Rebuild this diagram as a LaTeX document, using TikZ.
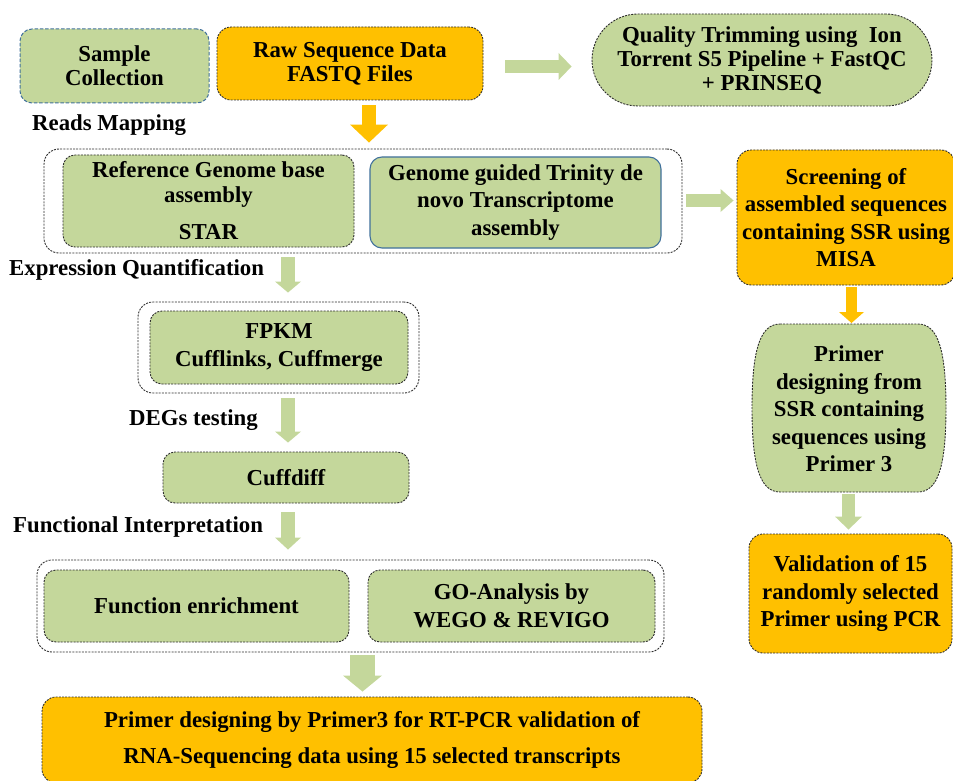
\documentclass[tikz,border=0pt]{standalone}
\usepackage{fontspec}
\setmainfont{Liberation Serif}
\usetikzlibrary{arrows.meta,calc}
\definecolor{gfill}{RGB}{196,215,155}
\definecolor{ofill}{RGB}{255,192,0}
\definecolor{bblue}{RGB}{65,113,156}
\definecolor{dgray}{RGB}{45,45,45}
\begin{document}
\begin{tikzpicture}[x=1pt,y=-1pt,
  every node/.style={inner sep=0pt, align=center, font=\bfseries\fontsize{22.8}{25}\selectfont},
  fdash/.style={draw=dgray, line width=0.9pt, dash pattern=on 2pt off 1.2pt},
  gbox/.style={fdash, fill=gfill, rounded corners=12pt},
  obox/.style={fdash, fill=ofill, rounded corners=14pt},
  outerbox/.style={fdash, fill=white, rounded corners=15pt},
  lbl/.style={anchor=west},
  sp24/.style={font=\bfseries\fontsize{22.8}{24}\selectfont},
  sp27/.style={font=\bfseries\fontsize{22.8}{27.5}\selectfont},
  sp36/.style={font=\bfseries\fontsize{22.8}{36}\selectfont},
  barrow/.style n args={4}{draw=#1, line width=#2, -{Triangle[width=#3, length=#4, line width=0pt]}}
]
\useasboundingbox (0,0) rectangle (953,781);
% top row
\node[gbox, draw=bblue, dash pattern=on 3.5pt off 1.8pt, line width=1pt, minimum width=189pt, minimum height=74pt, sp24] (samp) at (114.5,66) {Sample\\Collection};
\node[obox, minimum width=266pt, minimum height=73pt, sp24] (raw) at (350,63.5) {Raw Sequence Data\\FASTQ Files};
\node[gbox, rounded corners=46pt, minimum width=340pt, minimum height=92pt, sp24] (qual) at (762,60) {Quality Trimming using\ \ Ion\\Torrent S5 Pipeline + FastQC\\+ PRINSEQ};
\node[lbl] (lmap) at (32,125) {Reads Mapping};
% mapping group
\node[outerbox, minimum width=638pt, minimum height=104pt] (outer1) at (363,201) {};
\node[gbox, minimum width=291pt, minimum height=92pt] (ref) at (208.5,201) {Reference Genome base\\assembly\\[12pt]STAR};
\node[gbox, draw=bblue, solid, line width=1.1pt, minimum width=291pt, minimum height=91pt, sp27] (gg) at (515.5,202.5) {Genome guided Trinity de\\novo Transcriptome\\assembly};
\node[obox, minimum width=218pt, minimum height=135pt, sp27] (scr) at (846,217.5) {Screening of\\assembled sequences\\containing SSR using\\MISA};
% expression
\node[lbl] (lexp) at (9,270) {Expression Quantification};
\node[outerbox, minimum width=281pt, minimum height=91pt] (outer2) at (278.5,347.5) {};
\node[gbox, minimum width=258pt, minimum height=73pt, sp27] (fpkm) at (279,347.5) {FPKM\\Cufflinks, Cuffmerge};
\node[lbl] (ldeg) at (129,420) {DEGs testing};
\node[gbox, minimum width=246pt, minimum height=51pt] (cuff) at (286,477.5) {Cuffdiff};
\node[lbl] (lfun) at (13,527) {Functional Interpretation};
\node[outerbox, minimum width=627pt, minimum height=92pt] (outer3) at (350.5,606) {};
\node[gbox, minimum width=305pt, minimum height=72pt] (fe) at (196.5,606) {Function enrichment};
\node[gbox, minimum width=287pt, minimum height=72pt, sp27] (go) at (511.5,606) {GO-Analysis by\\WEGO \& REVIGO};
\node[obox, minimum width=660pt, minimum height=86pt, sp36] (bot) at (372,740) {Primer designing by Primer3 for RT-PCR validation of\\RNA-Sequencing data using 15 selected transcripts};
% right column
\begin{scope}[shift={(849,408)}]
\draw[fdash, fill=gfill] (-69,-84) -- (69,-84) .. controls (89,-84) and (97,-58) .. (97,0) .. controls (97,58) and (89,84) .. (69,84) -- (-69,84) .. controls (-89,84) and (-97,58) .. (-97,0) .. controls (-97,-58) and (-89,-84) .. (-69,-84) -- cycle;
\end{scope}
\coordinate (primtop) at (849,324);
\coordinate (primbot) at (849,492);
\node[sp27] (prim) at (849,409) {Primer\\designing from\\SSR containing\\sequences using\\Primer 3};
\node[obox, minimum width=203pt, minimum height=119pt, sp27] (val) at (850.5,593.5) {Validation of 15\\randomly selected\\Primer using PCR};
% arrows
\draw[barrow={gfill}{13pt}{27pt}{13pt}] ($(raw.east)+(22,3)$) -- ($(qual.west)+(-20,6.5)$);
\draw[barrow={ofill}{14pt}{38pt}{18pt}] ($(raw.south)+(19,5)$) -- ($(outer1.north)+(6,-6)$);
\draw[barrow={gfill}{13pt}{23pt}{13pt}] ($(outer1.east)+(4,-0.5)$) -- ($(scr.west)+(-3,-17)$);
\draw[barrow={gfill}{14pt}{26pt}{11pt}] ($(outer1.south)+(-75,4)$) -- ($(outer2.north)+(9.5,-9)$);
\draw[barrow={gfill}{14pt}{26pt}{11pt}] ($(outer2.south)+(9.5,5)$) -- ($(cuff.north)+(2,-9)$);
\draw[barrow={gfill}{14pt}{26pt}{12pt}] ($(cuff.south)+(2,9)$) -- ($(outer3.north)+(-62.5,-10)$);
\draw[barrow={gfill}{25pt}{39pt}{16pt}] ($(outer3.south)+(12,3)$) -- ($(bot.north)+(-9.5,-5)$);
\draw[barrow={ofill}{11pt}{25pt}{11pt}] ($(scr.south)+(5.5,2)$) -- ($(primtop)+(2.5,-1)$);
\draw[barrow={gfill}{13pt}{27pt}{13pt}] ($(primbot)+(-0.5,2)$) -- ($(val.north)+(-2,-4)$);
\end{tikzpicture}
\end{document}
